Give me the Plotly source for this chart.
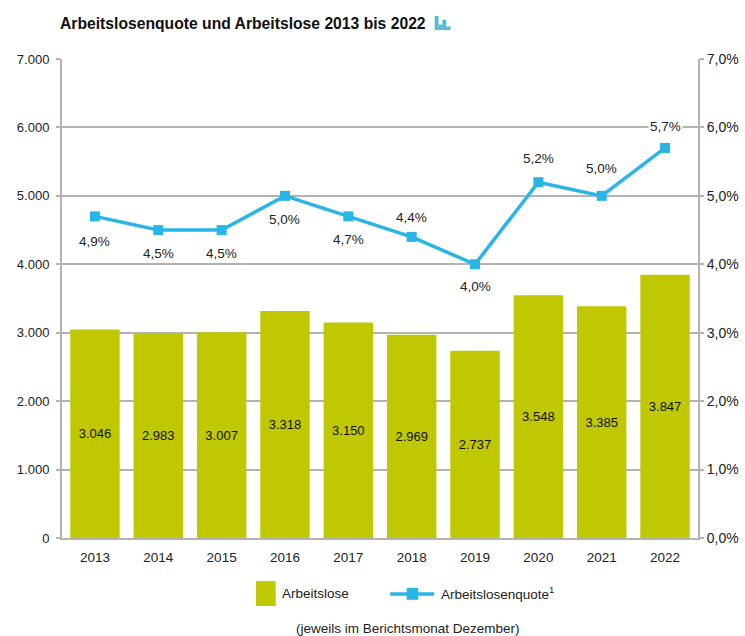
import plotly.graph_objects as go

years = [2013,2014,2015,2016,2017,2018,2019,2020,2021,2022]
arbeitslose = [3046,2983,3007,3318,3150,2969,2737,3548,3385,3847]
bar_labels = ["3.046","2.983","3.007","3.318","3.150","2.969","2.737","3.548","3.385","3.847"]
quote = [4.7,4.5,4.5,5.0,4.7,4.4,4.0,5.2,5.0,5.7]
quote_labels = ["4,9%","4,5%","4,5%","5,0%","4,7%","4,4%","4,0%","5,2%","5,0%","5,7%"]
label_shift = [-25,-23,-23,-24,-23,19,-22,24,27,21]
left_ticks = [0,1000,2000,3000,4000,5000,6000,7000]
left_labels = ["0","1.000","2.000","3.000","4.000","5.000","6.000","7.000"]
right_ticks = [0,1,2,3,4,5,6,7]
right_labels = ["0,0%","1,0%","2,0%","3,0%","4,0%","5,0%","6,0%","7,0%"]

OLIVE = "#bfc800"
BLUE = "#29b5e6"
GRID = "#b3b3b3"
TXT = "#222222"
ICON = "#55b8dc"
FONT = "Liberation Sans"

fig = go.Figure()
fig.add_trace(go.Bar(x=years, y=arbeitslose, marker=dict(color=OLIVE, line_width=0), width=0.78,
                     text=bar_labels, textposition="inside", insidetextanchor="middle",
                     textfont=dict(size=13, color="#111111", family=FONT), textangle=0,
                     showlegend=False, yaxis="y"))
fig.add_trace(go.Scatter(x=years, y=quote, mode="lines+markers", yaxis="y2",
                         line=dict(color=BLUE, width=3.5),
                         marker=dict(symbol="square", size=10, color=BLUE),
                         showlegend=False))

annots = []
for x, q, t, s in zip(years, quote, quote_labels, label_shift):
    annots.append(dict(x=x, y=q, xref="x", yref="y2", text=t, showarrow=False, yshift=s,
                       bgcolor="white", borderpad=1,
                       font=dict(size=13.5, color=TXT, family=FONT)))
annots += [
    dict(xref="paper", yref="paper", x=-0.007, y=1.075, xanchor="left", yanchor="middle", showarrow=False,
         text="<b>Arbeitslosenquote und Arbeitslose 2013 bis 2022</b>", font=dict(size=15.7, color="#111111")),
    dict(xref="paper", yref="paper", x=0.342, y=-0.115, xanchor="left", yanchor="middle", showarrow=False,
         text="Arbeitslose", font=dict(size=13.5)),
    dict(xref="paper", yref="paper", x=0.592, y=-0.115, xanchor="left", yanchor="middle", showarrow=False,
         text="Arbeitslosenquote<sup>1</sup>", font=dict(size=13.5)),
    dict(xref="paper", yref="paper", x=0.544, y=-0.188, xanchor="center", yanchor="middle", showarrow=False,
         text="(jeweils im Berichtsmonat Dezember)", font=dict(size=13.5)),
]

shapes = [
    dict(type="rect", xref="paper", yref="paper", x0=0.305, x1=0.336, y0=-0.142, y1=-0.09,
         fillcolor=OLIVE, line_width=0),
    dict(type="line", xref="paper", yref="paper", x0=0.516, x1=0.585, y0=-0.117, y1=-0.117,
         line=dict(color=BLUE, width=3.5)),
    dict(type="rect", xref="paper", yref="paper", x0=0.542, x1=0.56, y0=-0.129, y1=-0.104,
         fillcolor=BLUE, line_width=0),
    # small bar icon next to the title
    dict(type="rect", xref="paper", yref="paper", x0=0.586, x1=0.592, y0=1.0605, y1=1.09, fillcolor=ICON, line_width=0),
    dict(type="rect", xref="paper", yref="paper", x0=0.592, x1=0.598, y0=1.0605, y1=1.072, fillcolor=ICON, line_width=0),
    dict(type="rect", xref="paper", yref="paper", x0=0.598, x1=0.604, y0=1.0605, y1=1.082, fillcolor=ICON, line_width=0),
    dict(type="rect", xref="paper", yref="paper", x0=0.604, x1=0.611, y0=1.0605, y1=1.068, fillcolor=ICON, line_width=0),
]

fig.update_layout(
    width=745, height=636, autosize=False,
    margin=dict(l=62, r=47, t=59, b=98),
    paper_bgcolor="white", plot_bgcolor="white",
    font=dict(family=FONT, color=TXT, size=14),
    xaxis=dict(range=[2012.48,2022.52], tickvals=years, ticktext=[str(y) for y in years],
               showgrid=False, showline=True, linecolor=GRID, linewidth=2, zeroline=False,
               ticks="", tickfont=dict(size=13.5), ticklabelstandoff=6, automargin=False),
    yaxis=dict(range=[0,7000], tickvals=left_ticks, ticktext=left_labels, showgrid=True,
               gridcolor=GRID, gridwidth=2, showline=True, linecolor=GRID, linewidth=2,
               ticks="outside", ticklen=4, tickcolor=GRID, tickwidth=2, zeroline=False,
               tickfont=dict(size=13), ticklabelstandoff=4, automargin=False),
    yaxis2=dict(range=[0,7], tickvals=right_ticks, ticktext=right_labels, overlaying="y", side="right",
                showgrid=False, showline=True, linecolor=GRID, linewidth=2,
                ticks="outside", ticklen=4, tickcolor=GRID, tickwidth=2, zeroline=False,
                tickfont=dict(size=14), automargin=False),
    annotations=annots,
    shapes=shapes,
)
fig.write_html("out.html", default_width="745px", default_height="636px",
               config={"displayModeBar": False},
               post_script="document.body.style.margin='0';document.documentElement.style.overflow='hidden';")
